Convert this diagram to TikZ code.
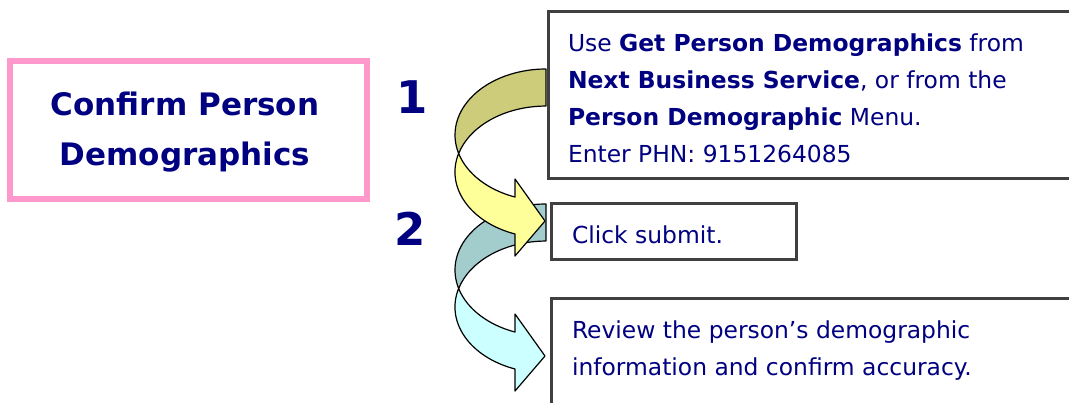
\documentclass[tikz,border=0pt]{standalone}
\usepackage{fontspec}
\setmainfont{DejaVu Sans}
\definecolor{navytext}{RGB}{0,0,128}
\definecolor{pinkline}{RGB}{255,153,204}
\definecolor{boxline}{RGB}{64,64,64}
\definecolor{oliveband}{RGB}{204,204,122}
\definecolor{yellowband}{RGB}{255,255,153}
\definecolor{tealband}{RGB}{163,204,204}
\definecolor{cyanband}{RGB}{204,255,255}

\begin{document}
\begin{tikzpicture}[x=1pt,y=-1pt,
  every node/.style={text=navytext,inner sep=0pt,outer sep=0pt},
  stepbox/.style={draw=boxline,line width=2.7pt,fill=white,rectangle,anchor=north west},
  steptext/.style={anchor=base west,align=left,font=\fontsize{23.4}{36.7}\selectfont},
  bignum/.style={anchor=base,font=\fontsize{45}{45}\selectfont\bfseries},
  band/.style={draw=black,line width=1.2pt,line join=round}]
\useasboundingbox (0,0) rectangle (1069,402);
\clip (0,0) rectangle (1069,402);
\node[draw=pinkline,line width=6pt,rectangle,anchor=north west,
      minimum width=357pt,minimum height=138pt] (titlebox) at (10,61) {};
\node[anchor=base,align=center,font=\fontsize{31}{50}\selectfont\bfseries]
      (title) at (185,165) {Confirm Person\\Demographics};
\node[bignum] (one) at (412,113) {1};
\node[bignum] (two) at (410,245) {2};
\node[stepbox,minimum width=560pt,minimum height=167.4pt] (boxa) at (548.4,11.3) {};
\node[stepbox,minimum width=245.2pt,minimum height=56.4pt] (boxb) at (551.4,203.3) {};
\node[stepbox,minimum width=560pt,minimum height=200pt] (boxc) at (551.4,298.7) {};
\node[steptext] (texta) at (568,162) {Use \textbf{Get Person Demographics} from\\
  \textbf{Next Business Service}, or from the\\
  \textbf{Person Demographic} Menu.\\
  Enter PHN: 9151264085};
\node[steptext] (textb) at (572,243) {Click submit.};
\node[steptext] (textc) at (572,375) {Review the person’s demographic\\
  information and confirm accuracy.};
\begin{scope}[shift={(0,135)}]
\filldraw[band,fill=tealband] (546,69)
  arc[start angle=90,end angle=196.3,x radius=91pt,y radius=66pt]
  arc[start angle=163.7,end angle=90,x radius=91pt,y radius=66pt] -- cycle;
\filldraw[band,fill=cyanband] (458.66,153.5)
  arc[start angle=196.3,end angle=250.1,x radius=91pt,y radius=66pt]
  -- (515,179) -- (545,221) -- (515,256) -- (515,234)
  arc[start angle=250.1,end angle=163.7,x radius=91pt,y radius=66pt] -- cycle;
\end{scope}
\filldraw[band,fill=oliveband] (546,69)
  arc[start angle=90,end angle=196.3,x radius=91pt,y radius=66pt]
  arc[start angle=163.7,end angle=90,x radius=91pt,y radius=66pt] -- cycle;
\filldraw[band,fill=yellowband] (458.66,153.5)
  arc[start angle=196.3,end angle=250.1,x radius=91pt,y radius=66pt]
  -- (515,179) -- (545,221) -- (515,256) -- (515,234)
  arc[start angle=250.1,end angle=163.7,x radius=91pt,y radius=66pt] -- cycle;
\end{tikzpicture}
\end{document}
